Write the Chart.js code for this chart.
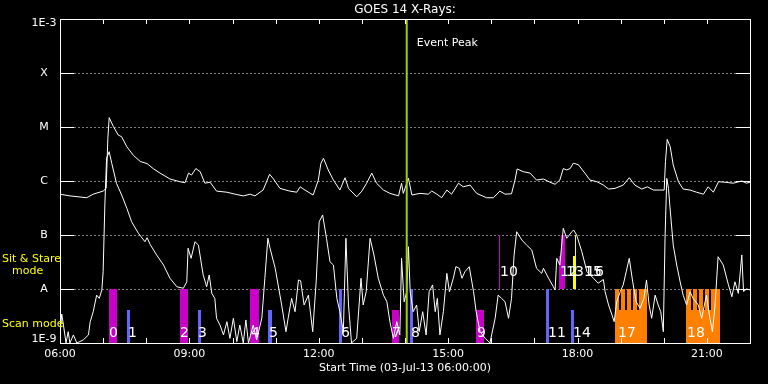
<!DOCTYPE html>
<html>
<head>
<meta charset="utf-8">
<script src="https://cdn.jsdelivr.net/npm/chart.js@4.4.1/dist/chart.umd.min.js"></script>
<style>
  html, body { margin: 0; padding: 0; background: #000; }
  #wrap { width: 768px; height: 384px; position: relative; }
</style>
</head>
<body>
<div id="wrap"><canvas id="c"></canvas></div>
<script>
// ---- data ----
const upperT = [6.00,6.23,6.62,6.77,7.00,7.07,7.11,7.14,7.24,7.35,7.43,7.55,7.70,7.86,8.02,8.16,8.32,8.55,8.78,8.90,8.98,9.05,9.15,9.25,9.36,9.48,9.63,9.87,10.06,10.25,10.41,10.52,10.71,10.86,10.95,11.10,11.33,11.49,11.57,11.68,11.87,11.99,12.05,12.11,12.22,12.34,12.49,12.61,12.69,12.88,13.00,13.11,13.23,13.34,13.50,13.65,13.85,13.92,13.96,14.08,14.16,14.35,14.54,14.62,14.74,14.85,14.97,15.08,15.24,15.35,15.51,15.66,15.89,16.05,16.20,16.32,16.47,16.55,16.60,16.74,16.90,17.05,17.21,17.36,17.48,17.59,17.67,17.75,17.83,17.90,17.94,18.02,18.17,18.29,18.45,18.60,18.72,18.87,19.06,19.20,19.33,19.49,19.62,19.76,19.91,20.01,20.04,20.08,20.15,20.22,20.34,20.45,20.61,20.76,20.92,21.03,21.15,21.27,21.42,21.61,21.81,21.92,22.00];
const upperV = [5.7e-7,5.3e-7,4.9e-7,5.7e-7,6.5e-7,7.3e-7,6.2e-6,1.49e-5,1.01e-5,7.1e-6,6.6e-6,4.3e-6,3.0e-6,2.3e-6,2.1e-6,1.7e-6,1.4e-6,1.09e-6,9.7e-7,9.3e-7,1.4e-6,1.29e-6,1.7e-6,1.49e-6,9.1e-7,9.5e-7,6.5e-7,6.2e-7,5.7e-7,5.3e-7,5.7e-7,5.3e-7,6.8e-7,1.33e-6,1.09e-6,7.3e-7,6.5e-7,6.2e-7,7.8e-7,6.8e-7,5.5e-7,1.04e-6,2.13e-6,2.63e-6,1.6e-6,1.04e-6,6.8e-7,1.15e-6,7.3e-7,5.1e-7,6.5e-7,9.1e-7,1.4e-6,9.1e-7,6.8e-7,5.9e-7,5.3e-7,9.1e-7,5.9e-7,1.12e-6,5.5e-7,5.9e-7,5.7e-7,6.5e-7,5.7e-7,4.9e-7,6.8e-7,5.7e-7,9.1e-7,7.8e-7,8.4e-7,5.9e-7,4.9e-7,4.9e-7,6.5e-7,5.7e-7,5.8e-7,1.04e-6,1.67e-6,1.49e-6,1.4e-6,1.04e-6,1.09e-6,9.5e-7,8.7e-7,1.04e-6,1.7e-6,1.6e-6,1.7e-6,2.13e-6,2.1e-6,2.0e-6,1.4e-6,1.04e-6,9.7e-7,8.4e-7,7.1e-7,7.3e-7,8.4e-7,1.15e-6,8.4e-7,7.1e-7,7.8e-7,6.8e-7,6.8e-7,6.8e-7,2.3e-6,5.9e-6,4.3e-6,1.98e-6,9.7e-7,7.1e-7,6.8e-7,6.2e-7,5.7e-7,7.8e-7,6.2e-7,9.7e-7,9.5e-7,9.1e-7,1.0e-6,9.1e-7,9.5e-7];

const lowerT = [6.00,6.04,6.08,6.14,6.19,6.23,6.31,6.39,6.54,6.66,6.70,6.77,6.85,6.91,6.97,7.00,7.04,7.08,7.14,7.20,7.31,7.43,7.55,7.66,7.82,7.97,8.02,8.09,8.24,8.40,8.55,8.71,8.86,8.94,8.97,9.04,9.13,9.21,9.32,9.40,9.46,9.52,9.59,9.63,9.71,9.79,9.87,9.94,10.02,10.10,10.17,10.25,10.31,10.37,10.48,10.56,10.68,10.75,10.82,10.87,10.99,11.14,11.24,11.29,11.37,11.45,11.53,11.58,11.66,11.76,11.86,11.94,12.01,12.09,12.18,12.26,12.34,12.42,12.49,12.57,12.63,12.69,12.76,12.88,12.98,13.03,13.10,13.19,13.28,13.38,13.50,13.58,13.65,13.73,13.81,13.88,13.92,13.98,14.04,14.08,14.12,14.19,14.27,14.33,14.41,14.49,14.56,14.64,14.70,14.75,14.81,14.89,14.97,15.03,15.12,15.18,15.26,15.32,15.39,15.49,15.59,15.65,15.74,15.86,15.97,16.09,16.16,16.24,16.32,16.40,16.47,16.53,16.59,16.71,16.82,16.94,17.05,17.17,17.21,17.33,17.44,17.48,17.52,17.59,17.67,17.75,17.87,17.91,17.98,18.10,18.22,18.37,18.48,18.60,18.64,18.72,18.80,18.85,18.91,18.99,19.06,19.13,19.20,19.28,19.36,19.45,19.54,19.60,19.66,19.72,19.80,19.87,19.93,19.99,20.03,20.07,20.11,20.14,20.22,20.30,20.38,20.45,20.53,20.61,20.68,20.80,20.88,20.99,21.07,21.13,21.19,21.26,21.38,21.50,21.58,21.65,21.73,21.81,21.85,21.92,22.00];
const lowerV = [1.41e-9,3.44e-9,2.15e-9,1e-9,1.62e-9,1e-9,1.41e-9,1e-9,1.14e-9,1.41e-9,2.48e-9,3.8e-9,7.7e-9,6.7e-9,9.6e-9,2.09e-8,3.6e-7,2.63e-6,3.49e-6,2.13e-6,9.06e-7,5.5e-7,3.12e-7,1.76e-7,1.07e-7,7.5e-8,8.9e-8,6.7e-8,4.27e-8,2.78e-8,1.58e-8,1.10e-8,1.03e-8,1.36e-8,5.7e-8,3.7e-8,7.5e-8,6.5e-8,1.82e-8,1.10e-8,1.82e-8,8.3e-9,6.7e-9,2.87e-9,2.15e-9,1.41e-9,2.48e-9,1.22e-9,2.87e-9,1.06e-9,2.15e-9,1e-9,2.67e-9,1e-9,2.15e-9,1.14e-9,2.87e-9,1.58e-8,8.7e-8,5.7e-8,2.42e-8,5.06e-9,1.62e-9,2.87e-9,6.7e-9,3.8e-9,1.47e-8,1.42e-8,5.06e-9,7.7e-9,1.62e-9,1.36e-8,1.76e-7,2.35e-7,8.7e-8,3.2e-8,2.78e-8,6.7e-9,3.8e-9,1.62e-9,8.7e-8,5.06e-9,1e-9,1.22e-9,1.58e-8,5.06e-9,8.9e-9,8.7e-8,4.27e-8,1.58e-8,7.7e-9,5.8e-9,2.48e-9,1.22e-9,2.48e-9,1.4e-9,3.7e-8,5.8e-9,8.9e-9,6.07e-8,8.9e-9,3.8e-9,5.06e-9,1.62e-9,3.8e-9,1.41e-9,8.9e-9,1.19e-8,3.8e-9,6.7e-9,1.41e-9,3.8e-9,1.95e-8,8.9e-9,1.58e-8,2.59e-8,2.42e-8,1.58e-8,2.09e-8,2.59e-8,8.9e-9,3.8e-9,1.62e-9,1.22e-9,1e-9,2.87e-9,7.7e-9,6.7e-9,5.8e-9,2.87e-9,6.7e-9,4.27e-8,1.15e-7,8.07e-8,6.5e-8,5.27e-8,2.42e-8,1.95e-8,2.42e-8,1.58e-8,1.10e-8,9.6e-9,3.7e-8,2.78e-8,1.33e-7,8.7e-8,1.15e-7,1.24e-7,1.0e-7,4.9e-8,2.09e-8,1.58e-8,1.28e-8,1.5e-8,8.9e-9,5.06e-9,3.3e-9,2.48e-9,5.8e-9,8.9e-9,1.19e-8,2.09e-8,3.7e-8,1.36e-8,5.8e-9,4.4e-9,6.7e-9,1.47e-8,5.06e-9,2.87e-9,7.7e-9,5.06e-9,3.8e-9,1.62e-9,8.7e-8,1.12e-6,7.3e-7,3.6e-7,6.5e-8,2.78e-8,1.36e-8,7.7e-9,5.06e-9,8.9e-9,6.7e-9,5.06e-9,2.87e-9,7.7e-9,2.87e-9,1.62e-9,5.06e-9,3.96e-8,2.78e-8,1.19e-8,7.2e-9,1.36e-8,8.3e-9,4.27e-8,9e-9,1e-8,9.6e-9];

// observation windows: start/end hour, low/high flux, kind
const barStart = [7.136,7.554,8.783,9.200,10.406,10.823,12.470,13.698,14.109,15.646,16.180,17.270,17.571,17.617,17.849,17.896,17.942,18.870,18.870,19.009,19.148,19.287,19.426,20.516,20.516,20.671,20.810,20.949,21.089];
const barEnd   = [7.322,7.616,8.968,9.263,10.614,10.916,12.539,13.861,14.179,15.832,16.203,17.339,17.617,17.710,17.919,17.965,17.965,19.612,18.963,19.101,19.241,19.380,19.612,21.304,20.625,20.764,20.903,21.042,21.304];
const barLow   = [1e-9,1e-9,1e-9,1e-9,1e-9,1e-9,1e-9,1e-9,1e-9,1e-9,1e-8,1e-9,1e-8,1e-8,1e-9,1e-8,1e-8,1e-9,1e-9,1e-9,1e-9,1e-9,1e-9,1e-9,1e-9,1e-9,1e-9,1e-9,1e-9];
const barHigh  = [1e-8,4.1e-9,1e-8,4.1e-9,1e-8,4.1e-9,1e-8,4.1e-9,1e-8,4.1e-9,1e-7,1e-8,4.1e-8,1e-7,4.1e-9,4.1e-8,1e-7,4.1e-9,1e-8,1e-8,1e-8,1e-8,1e-8,4.1e-9,1e-8,1e-8,1e-8,1e-8,1e-8];
const barKind  = ['m','b','m','b','m','b','b','m','b','m','m','b','m','m','b','y','y','o','o','o','o','o','o','o','o','o','o','o','o'];

const eventNames = ['0','1','2','3','4','5','6','7','8','9','10','11','12','13','14','15','16','17','18'];
const eventLabelT = [7.136,7.577,8.783,9.200,10.429,10.846,12.516,13.699,14.139,15.670,16.203,17.316,17.594,17.733,17.896,18.151,18.197,18.939,20.539];
const eventLabelV = [1.5e-9,1.5e-9,1.5e-9,1.5e-9,1.5e-9,1.5e-9,1.5e-9,1.5e-9,1.5e-9,1.5e-9,2.07e-8,1.5e-9,2.07e-8,2.07e-8,1.5e-9,2.07e-8,2.07e-8,1.5e-9,1.5e-9];

const eventPeakT = 14.04;
const yTickValues = [1e-3,1e-4,1e-5,1e-6,1e-7,1e-8,1e-9];
const yTickLabels = ['1E-3','X','M','C','B','A','1E-9'];
const xTickValues = [6,9,12,15,18,21];
const xTickLabels = ['06:00','09:00','12:00','15:00','18:00','21:00'];

const colors = { m: '#c800c8', b: '#6464ff', y: '#ffff00', o: '#ff8000' };
const FONT = "'DejaVu Sans', sans-serif";

const overlay = {
  id: 'overlay',
  beforeDatasetsDraw(chart) {
    const { ctx, chartArea: a, scales: { x, y } } = chart;
    ctx.save();
    // dotted grid
    ctx.strokeStyle = '#fff'; ctx.lineWidth = 1; ctx.setLineDash([1, 3]);
    for (let i = 1; i < yTickValues.length - 1; i++) {
      const py = Math.round(y.getPixelForValue(yTickValues[i])) + 0.5;
      ctx.beginPath(); ctx.moveTo(a.left + 14.5, py); ctx.lineTo(a.right - 14, py); ctx.stroke();
    }
    ctx.setLineDash([]);
    // bars
    for (let i = 0; i < barStart.length; i++) {
      const x0 = Math.round(x.getPixelForValue(barStart[i]));
      const x1 = Math.round(x.getPixelForValue(barEnd[i]));
      const y0 = Math.round(y.getPixelForValue(barLow[i]));
      const y1 = Math.round(y.getPixelForValue(barHigh[i]));
      ctx.fillStyle = colors[barKind[i]];
      ctx.fillRect(x0, y1, Math.max(1, x1 - x0), y0 - y1);
    }
    // event labels
    ctx.fillStyle = '#fff'; ctx.font = '14px ' + FONT;
    ctx.textAlign = 'left'; ctx.textBaseline = 'middle';
    for (let i = 0; i < eventNames.length; i++) {
      ctx.fillText(eventNames[i], x.getPixelForValue(eventLabelT[i]), y.getPixelForValue(eventLabelV[i]));
    }
    ctx.restore();
  },
  afterDatasetsDraw(chart) {
    const { ctx, chartArea: a, scales: { x, y } } = chart;
    ctx.save();
    // event peak line
    const ex = x.getPixelForValue(eventPeakT);
    ctx.strokeStyle = '#a0d000'; ctx.lineWidth = 2;
    ctx.beginPath(); ctx.moveTo(ex, a.top); ctx.lineTo(ex, a.bottom); ctx.stroke();
    // box
    ctx.strokeStyle = '#fff'; ctx.lineWidth = 1;
    ctx.strokeRect(a.left + 0.5, a.top + 0.5, a.right - a.left, a.bottom - a.top);
    // y ticks
    for (let i = 1; i < yTickValues.length - 1; i++) {
      const py = Math.round(y.getPixelForValue(yTickValues[i])) + 0.5;
      ctx.beginPath(); ctx.moveTo(a.left, py); ctx.lineTo(a.left + 14, py);
      ctx.moveTo(a.right - 14, py); ctx.lineTo(a.right + 1, py); ctx.stroke();
    }
    // x ticks every hour
    for (let h = 7; h < 22; h++) {
      const px = Math.round(x.getPixelForValue(h)) + 0.5;
      ctx.beginPath(); ctx.moveTo(px, a.bottom); ctx.lineTo(px, a.bottom - 5);
      ctx.moveTo(px, a.top); ctx.lineTo(px, a.top + 5); ctx.stroke();
    }
    // texts
    ctx.fillStyle = '#fff'; ctx.textBaseline = 'middle';
    ctx.font = '12px ' + FONT; ctx.textAlign = 'center';
    ctx.fillText('GOES 14 X-Rays:', (a.left + a.right) / 2, 9.5);
    ctx.font = '11px ' + FONT;
    for (let i = 0; i < yTickValues.length; i++) {
      let py = y.getPixelForValue(yTickValues[i]);
      if (i === 0) py += 4; if (i === yTickValues.length - 1) py -= 3.5;
      ctx.fillText(yTickLabels[i], 44, py);
    }
    for (let i = 0; i < xTickValues.length; i++) {
      ctx.fillText(xTickLabels[i], x.getPixelForValue(xTickValues[i]), 354.5);
    }
    ctx.fillText('Start Time (03-Jul-13 06:00:00)', (a.left + a.right) / 2, 368);
    ctx.textAlign = 'left';
    ctx.fillText('Event Peak', ex + 10, 43);
    ctx.fillStyle = '#ffff00';
    ctx.fillText('Sit & Stare', 2, 259);
    ctx.fillText('mode', 12, 271);
    ctx.fillText('Scan mode', 2, 324);
    ctx.restore();
  }
};

const toPts = (t, v) => t.map((h, i) => ({ x: h, y: v[i] }));

new Chart(document.getElementById('c'), {
  type: 'line',
  data: {
    datasets: [
      { label: 'long', data: toPts(upperT, upperV), borderColor: '#fff', borderWidth: 1, pointRadius: 0, tension: 0 },
      { label: 'short', data: toPts(lowerT, lowerV), borderColor: '#fff', borderWidth: 1, pointRadius: 0, tension: 0 }
    ]
  },
  options: {
    responsive: true, maintainAspectRatio: false, animation: false,
    layout: { padding: { left: 60, right: 18, top: 19, bottom: 41 } },
    plugins: { legend: { display: false }, tooltip: { enabled: false } },
    scales: {
      x: { type: 'linear', min: 6, max: 22, display: false },
      y: { type: 'logarithmic', min: 1e-9, max: 1e-3, display: false }
    }
  },
  plugins: [overlay]
});
</script>
</body>
</html>
